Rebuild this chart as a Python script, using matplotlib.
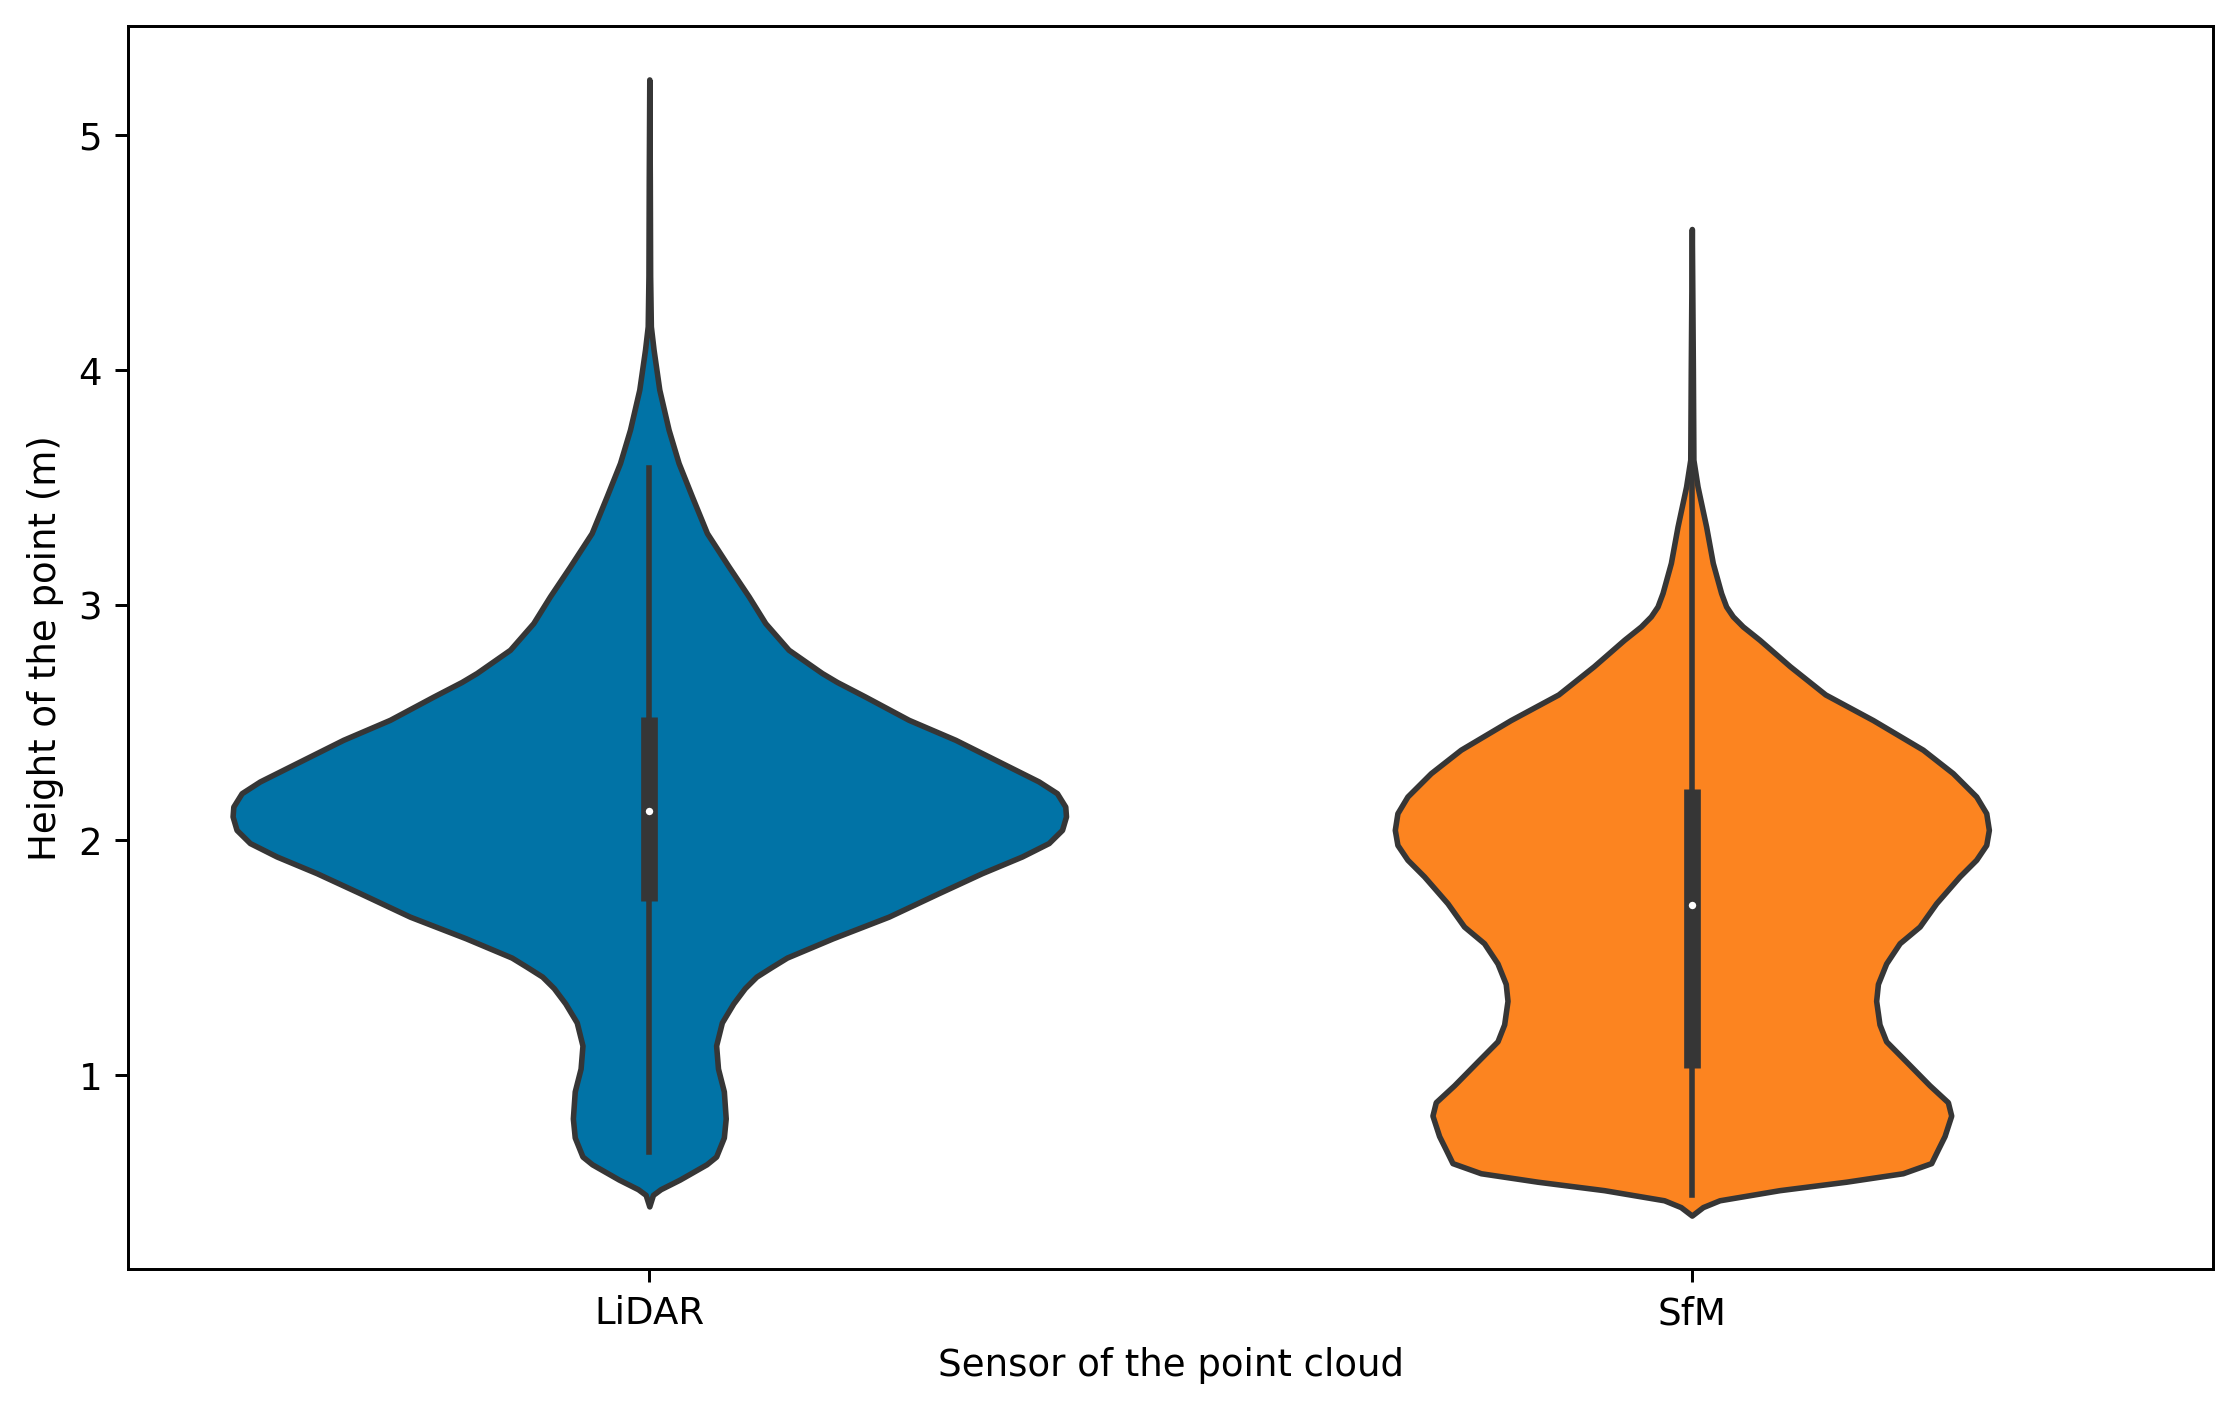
import numpy as np
import matplotlib
matplotlib.use("Agg")
import matplotlib.pyplot as plt

# ---- data ----
categories = ["LiDAR", "SfM"]

# LiDAR violin: height (m) and half-width of the density outline
lidar_y = [0.443, 0.492, 0.516, 0.557, 0.622, 0.655, 0.736, 0.817, 0.932, 1.029,
           1.127, 1.225, 1.306, 1.371, 1.420, 1.461, 1.501, 1.583, 1.675, 1.775,
           1.860, 1.931, 1.988, 2.044, 2.101, 2.143, 2.200, 2.250, 2.328, 2.427,
           2.512, 2.611, 2.673, 2.711, 2.810, 2.923, 3.037, 3.164, 3.306, 3.462,
           3.604, 3.746, 3.916, 4.086, 4.185, 4.400, 4.800, 5.235]
lidar_w = [0.0, 0.0035, 0.0108, 0.0292, 0.0549, 0.0641, 0.0715, 0.0733, 0.0715, 0.0659,
           0.0641, 0.0696, 0.0806, 0.0916, 0.1027, 0.1173, 0.132, 0.176, 0.2296, 0.2776,
           0.3191, 0.3575, 0.3831, 0.3959, 0.3997, 0.399, 0.391, 0.3735, 0.3383, 0.2936,
           0.2488, 0.207, 0.180, 0.1656, 0.1336, 0.1113, 0.0953, 0.0761, 0.0553, 0.0409,
           0.0281, 0.0185, 0.0096, 0.0041, 0.0015, 0.0008, 0.0005, 0.0]

# SfM violin
sfm_y = [0.404, 0.440, 0.469, 0.512, 0.548, 0.584, 0.627, 0.685, 0.742, 0.829,
         0.886, 0.958, 1.059, 1.145, 1.217, 1.317, 1.389, 1.476, 1.562, 1.633,
         1.732, 1.846, 1.917, 1.980, 2.044, 2.115, 2.186, 2.285, 2.385, 2.511,
         2.620, 2.740, 2.852, 2.909, 2.952, 2.994, 3.051, 3.179, 3.334, 3.504,
         3.618, 4.000, 4.599]
sfm_w = [0.0, 0.0106, 0.0266, 0.0841, 0.148, 0.2024, 0.2296, 0.236, 0.2424, 0.2488,
         0.2456, 0.228, 0.2056, 0.1864, 0.180, 0.1768, 0.1785, 0.1864, 0.1993, 0.2185,
         0.2344, 0.2568, 0.2728, 0.2824, 0.2849, 0.2824, 0.2728, 0.2504, 0.2216, 0.1737,
         0.128, 0.094, 0.065, 0.0489, 0.0393, 0.0329, 0.0281, 0.0201, 0.0137, 0.0055,
         0.0015, 0.001, 0.0]

# box statistics: q25, median, q75, whisker low, whisker high
q25 = [1.740, 1.033]
medians = [2.124, 1.724]
q75 = [2.522, 2.220]
whisk_lo = [0.676, 0.491]
whisk_hi = [3.583, 3.950]

colors = ["#0173a6", "#fc8420"]
gray = "#363636"

# ---- figure ----
DPI = 267
fig = plt.figure(figsize=(2240.4 / DPI, 1411.4 / DPI), dpi=DPI)
ax = fig.add_axes([128 / 2240, 1 - 1269 / 1411, (2212.7 - 128) / 2240, (1269 - 26) / 1411])

positions = np.arange(len(categories))
profiles = [(lidar_y, lidar_w), (sfm_y, sfm_w)]
vpstats = []
widths = []
for (ys, ws), med in zip(profiles, medians):
    ys = np.asarray(ys)
    ws = np.asarray(ws)
    vpstats.append(dict(coords=ys, vals=ws, mean=med, median=med,
                        min=ys.min(), max=ys.max()))
    widths.append(2 * ws.max())

parts = ax.violin(vpstats, positions=positions, widths=widths,
                  showmeans=False, showextrema=False, showmedians=False)
for body, c in zip(parts["bodies"], colors):
    body.set_facecolor(c)
    body.set_edgecolor(gray)
    body.set_linewidth(1.5)
    body.set_joinstyle("round")
    body.set_alpha(1)
    body.set_zorder(1)

for i, p in enumerate(positions):
    ax.plot([p, p], [whisk_lo[i], whisk_hi[i]], color=gray, lw=1.5, zorder=2)
    ax.plot([p, p], [q25[i], q75[i]], color=gray, lw=4.5, zorder=2,
            solid_capstyle="butt")
    ax.scatter([p], [medians[i]], s=9, color="white", edgecolor=gray,
               linewidths=1.0, zorder=3)

ax.set_xlim(-0.5, 1.5)
ax.set_ylim(0.177, 5.464)
ax.set_xticks(positions)
ax.set_xticklabels(categories)
ax.set_yticks([1, 2, 3, 4, 5])
ax.set_xlabel("Sensor of the point cloud")
ax.set_ylabel("Height of the point (m)")

fig.savefig("out.png", dpi=DPI)
